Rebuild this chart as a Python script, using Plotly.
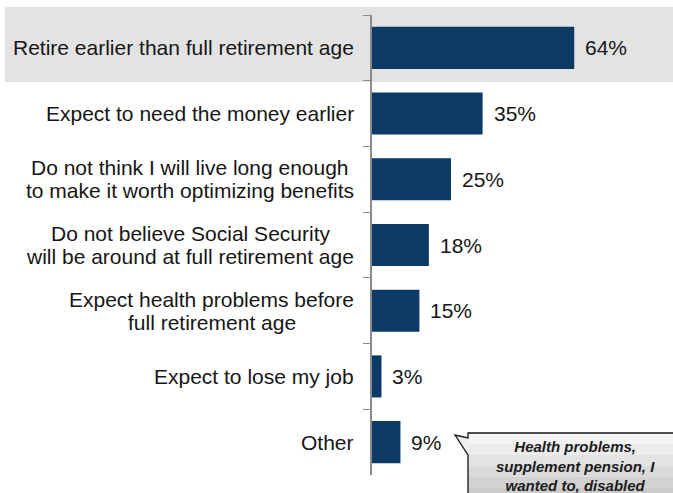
import plotly.graph_objects as go

categories = [
    "Retire earlier than full retirement age",
    "Expect to need the money earlier",
    "Do not think I will live long enough<br>to make it worth optimizing benefits",
    "Do not believe Social Security<br>will be around at full retirement age",
    "Expect health problems before<br>full retirement age",
    "Expect to lose my job",
    "Other",
]
values = [64, 35, 25, 18, 15, 3, 9]
callout_text = "Health problems,<br>supplement pension, I<br>wanted to, disabled"

W, H = 673, 493
L, R, T, B = 372, 0, 15, 18
PW, PH = W - L - R, H - T - B

def px(x):
    return (x - L) / PW

def py(y):
    return 1 - (y - T) / PH

FONT = "Liberation Sans, Arial, sans-serif"
BAR = "#0b3a64"
TXT = "#161616"
LSIZE = 21

# Arial / Liberation Sans advance widths (per 1000 em)
_W = {" ": 278, ",": 278, ".": 278, "%": 889, "I": 278, "D": 722, "S": 667, "E": 667,
      "O": 778, "R": 722, "F": 611, "m": 833, "w": 722, "i": 222, "j": 222, "l": 222,
      "f": 278, "t": 278, "r": 333, "c": 500, "k": 500, "s": 500, "v": 500, "x": 500,
      "y": 500, "z": 500}

def text_w(s, size):
    return sum(_W.get(ch, 556) for ch in s) * size / 1000.0

fig = go.Figure()
fig.add_trace(go.Bar(
    x=values, y=categories, orientation="h",
    marker=dict(color=BAR, line=dict(width=0)),
    width=0.64, hoverinfo="skip",
))

shapes = [
    dict(type="rect", xref="paper", yref="paper", x0=px(5), x1=px(680),
         y0=py(82), y1=py(7), fillcolor="#e3e3e3", line=dict(width=0), layer="below"),
]

annotations = []
LINE = 23
RIGHT = -16
for c, v in zip(categories, values):
    annotations.append(dict(
        x=v, y=c, xref="x", yref="y", text=f"{v}%", showarrow=False,
        xanchor="left", xshift=9, font=dict(family=FONT, size=LSIZE, color=TXT),
    ))
    lines = c.split("<br>")
    n = len(lines)
    maxw = max(text_w(ln, LSIZE) for ln in lines)
    for i, ln in enumerate(lines):
        off = ((n - 1) / 2 - i) * LINE
        xs = RIGHT - (maxw - text_w(ln, LSIZE)) / 2
        annotations.append(dict(
            x=0, y=c, xref="paper", yref="y", text=ln, showarrow=False,
            xanchor="right", align="right", xshift=xs, yshift=off,
            font=dict(family=FONT, size=LSIZE, color=TXT),
        ))

# callout box
bx0, by0 = 468, 433
tipx, tipy = 455, 435
n1, n2 = 438, 455
grad = ["#f3f3f3", "#ebebeb", "#e3e3e3", "#dadada", "#d2d2d2", "#cbcbcb"]
step = (H + 5 - by0) / len(grad)
for i, g in enumerate(grad):
    shapes.append(dict(type="rect", xref="paper", yref="paper",
                       x0=px(bx0), x1=px(690), y0=py(by0 + step * (i + 1)), y1=py(by0 + step * i),
                       fillcolor=g, line=dict(width=0), layer="above"))
shapes.append(dict(type="path", xref="paper", yref="paper",
                   path=f"M {px(bx0+1)} {py(n1)} L {px(tipx)} {py(tipy)} L {px(bx0+1)} {py(n2)} Z",
                   fillcolor="#f0f0f0", line=dict(width=0), layer="above"))
outline = (f"M {px(690)} {py(by0)} L {px(bx0)} {py(by0)} L {px(bx0)} {py(n1)} "
           f"L {px(tipx)} {py(tipy)} L {px(bx0)} {py(n2)} L {px(bx0)} {py(H + 5)}")
shapes.append(dict(type="path", xref="paper", yref="paper", path=outline,
                   line=dict(color="#151515", width=1.3), layer="above"))
annotations.append(dict(
    x=px(575), y=py(466), xref="paper", yref="paper", text=f"<b><i>{callout_text}</i></b>",
    showarrow=False, align="center", xanchor="center", yanchor="middle",
    font=dict(family=FONT, size=15, color="#1c1c1c"),
))

fig.update_layout(
    width=W, height=H, margin=dict(l=L, r=R, t=T, b=B),
    paper_bgcolor="white", plot_bgcolor="rgba(0,0,0,0)",
    showlegend=False, bargap=0.36,
    shapes=shapes, annotations=annotations,
    xaxis=dict(range=[0, PW / 3.16], visible=False, fixedrange=True),
    yaxis=dict(
        categoryorder="array", categoryarray=categories, autorange="reversed",
        showticklabels=False, ticks="outside", ticklen=7, tickcolor="#8a8a8a",
        tickson="boundaries", showline=True, linecolor="#8a8a8a", linewidth=1.5,
        showgrid=False, zeroline=False,
    ),
)

fig.write_html("out.html")
